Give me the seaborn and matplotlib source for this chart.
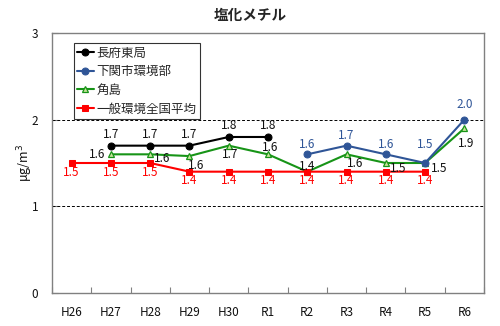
import numpy as np
import pandas as pd
import matplotlib
matplotlib.use("Agg")
import matplotlib.pyplot as plt
import seaborn as sns

categories = ["H26", "H27", "H28", "H29", "H30", "R1", "R2", "R3", "R4", "R5", "R6"]
chofu = [np.nan, 1.7, 1.7, 1.7, 1.8, 1.8, np.nan, np.nan, np.nan, np.nan, np.nan]
shimonoseki = [np.nan, np.nan, np.nan, np.nan, np.nan, np.nan, 1.6, 1.7, 1.6, 1.5, 2.0]
tsunoshima = [np.nan, 1.6, 1.6, 1.58, 1.7, 1.6, 1.4, 1.6, 1.5, 1.5, 1.9]
national = [1.5, 1.5, 1.5, 1.4, 1.4, 1.4, 1.4, 1.4, 1.4, 1.4, np.nan]
series_names = ["長府東局", "下関市環境部", "角島", "一般環境全国平均"]
title = "塩化メチル"
ylabel = "μg/m$^3$"

sns.set_theme(style="white")
plt.rcParams["font.family"] = ["Noto Sans CJK JP", "DejaVu Sans"]
plt.rcParams["mathtext.fontset"] = "dejavusans"

fig = plt.figure(figsize=(5.0, 3.26), dpi=100)
ax = fig.add_axes([0.104, 0.101, 0.864, 0.798])

x = np.arange(len(categories))
c_black = "#000000"
c_blue = "#2F5597"
c_green = "#179417"
c_red = "#FF0000"

ax.axhline(1, color="black", lw=0.7, ls=(0, (3, 2)), zorder=1)
ax.axhline(2, color="black", lw=0.7, ls=(0, (3, 2)), zorder=1)

sns.lineplot(x=x, y=chofu, ax=ax, color=c_black, marker="o", markersize=5,
             markeredgecolor=c_black, lw=1.5, label=series_names[0], zorder=4)
sns.lineplot(x=x, y=shimonoseki, ax=ax, color=c_blue, marker="o", markersize=5,
             markeredgecolor=c_blue, lw=1.5, label=series_names[1], zorder=4)
sns.lineplot(x=x, y=tsunoshima, ax=ax, color=c_green, marker="^", markersize=5,
             markerfacecolor="#c8e39a", markeredgecolor=c_green, markeredgewidth=0.9,
             lw=1.5, label=series_names[2], zorder=3)
sns.lineplot(x=x, y=national, ax=ax, color=c_red, marker="s", markersize=5,
             markeredgecolor=c_red, lw=1.5, label=series_names[3], zorder=5)

fs = 8.5
def lab(i, v, dx, dy, color):
    ax.annotate(f"{round(v, 1):.1f}", (x[i], v), xytext=(dx, dy), textcoords="offset pixels",
                ha="center", va="center", fontsize=fs, color=color, zorder=6)

for i, v in enumerate(chofu):
    if not np.isnan(v):
        lab(i, v, 0, 11, "#111111")
for i, v in enumerate(shimonoseki):
    if not np.isnan(v):
        dy = 18 if i == 9 else (15 if i == 10 else 10)
        lab(i, v, 0, dy, c_blue)
for i, v in enumerate(national):
    if not np.isnan(v):
        lab(i, v, 0, -9, c_red)
green_off = {1: (-14, 0), 2: (12, -4), 3: (7, -9), 4: (1, -9), 5: (2, 7),
             6: (0, 5), 7: (9, -9), 8: (12, -5), 9: (14, -6), 10: (2, -15)}
for i, v in enumerate(tsunoshima):
    if not np.isnan(v):
        dx, dy = green_off[i]
        lab(i, v, dx, dy, "#111111")

ax.set_xlim(-0.5, len(categories) - 0.5)
ax.set_ylim(0, 3)
ax.set_yticks([0, 1, 2, 3])
ax.set_yticklabels(["0", "1", "2", "3"])
ax.set_xticks(x)
ax.set_xticklabels(categories)
ax.set_xticks(np.arange(len(categories) + 1) - 0.5, minor=True)
ax.tick_params(axis="x", which="major", length=0, labelsize=8.5, pad=9, colors="#111111")
ax.tick_params(axis="x", which="minor", direction="in", length=4, width=0.8, color="#808080")
ax.tick_params(axis="y", direction="in", length=4, width=0.8, color="#808080",
               labelsize=8.5, pad=10, labelcolor="#111111")
ax.tick_params(axis="y", left=True)
ax.tick_params(axis="x", which="minor", bottom=True)
for s in ax.spines.values():
    s.set_color("#808080")
    s.set_linewidth(1.0)
ax.set_xlabel("")
ax.set_ylabel(ylabel, fontsize=9, color="#111111")
ax.yaxis.set_label_coords(-0.04, 0.5)

fig.text(0.5, 0.953, title, ha="center", va="center", fontsize=10.5, fontweight="bold")

leg = ax.legend(loc="upper left", bbox_to_anchor=(0.05, 0.962), fontsize=9, frameon=True,
                fancybox=False, edgecolor="black", borderpad=0.3, labelspacing=0.45,
                handlelength=1.3, handletextpad=0.2, borderaxespad=0)
leg.get_frame().set_linewidth(0.8)

fig.savefig("out.png", dpi=100)
